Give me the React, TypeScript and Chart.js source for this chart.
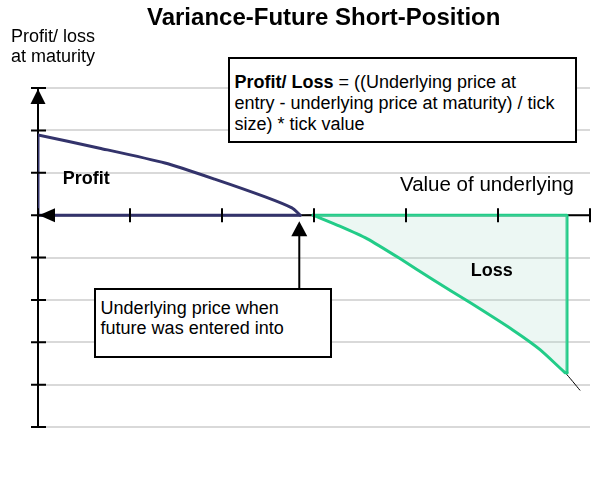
import React, { useEffect, useRef } from "react";
import { Chart, registerables } from "chart.js";

Chart.register(...registerables);

// ---- data ----
const xTicks = [0, 1, 2, 3, 4, 5, 6];
const yMin = -5;
const yMax = 3;
const profitX = [0, 0.67, 1.38, 1.92, 2.47, 2.76, 2.85];
const profitY = [1.89, 1.58, 1.23, 0.85, 0.43, 0.17, 0];
const lossX = [2.99, 3.28, 3.58, 3.93, 4.29, 4.7, 5.16, 5.46, 5.73];
const lossY = [0, -0.26, -0.56, -1.02, -1.52, -2.07, -2.71, -3.18, -3.72];
const lossEdgeX = 5.75;
const payoffEndX = [5.89];
const payoffEndY = [-4.13];
const entryPriceX = 2.84;
const entryBoxY = -1.75;

const FONT = '"Liberation Sans", Arial, sans-serif';
const NAVY = "#33336b";
const GREEN = "#22cc88";

const profitPts = profitX.map((x, i) => ({ x, y: profitY[i] }));
const lossPts = lossX.map((x, i) => ({ x, y: lossY[i] }));

const axesPlugin = {
  id: "axesPlugin",
  beforeDatasetsDraw(chart: any) {
    const { ctx, scales } = chart;
    const xs = scales.x, ys = scales.y;
    const x0 = xs.getPixelForValue(0);
    const y0 = ys.getPixelForValue(0);
    ctx.save();
    ctx.strokeStyle = "#000";
    ctx.lineWidth = 2;
    ctx.beginPath();
    ctx.moveTo(x0, y0);
    ctx.lineTo(xs.getPixelForValue(xTicks[xTicks.length - 1]), y0);
    ctx.moveTo(x0, ys.getPixelForValue(yMax));
    ctx.lineTo(x0, ys.getPixelForValue(yMin));
    ctx.stroke();
    ctx.restore();
  },
  afterDatasetsDraw(chart: any) {
    const { ctx, scales } = chart;
    const xs = scales.x, ys = scales.y;
    const x0 = xs.getPixelForValue(0);
    const y0 = ys.getPixelForValue(0);
    ctx.save();
    ctx.strokeStyle = "#000";
    ctx.fillStyle = "#000";
    ctx.lineWidth = 2;
    ctx.beginPath();
    xTicks.forEach((t) => {
      const px = xs.getPixelForValue(t);
      ctx.moveTo(px, y0 - 7);
      ctx.lineTo(px, y0 + 7);
    });
    for (let v = yMin; v <= yMax; v++) {
      const py = ys.getPixelForValue(v);
      ctx.moveTo(x0 - 7, py);
      ctx.lineTo(x0 + 8, py);
    }
    ctx.stroke();
    // y-axis arrow head (up)
    const yt = ys.getPixelForValue(yMax);
    ctx.beginPath();
    ctx.moveTo(x0, yt + 1);
    ctx.lineTo(x0 + 7.5, yt + 16);
    ctx.lineTo(x0 - 7.5, yt + 16);
    ctx.closePath();
    ctx.fill();
    // x-axis arrow head (left)
    ctx.beginPath();
    ctx.moveTo(x0 + 1, y0);
    ctx.lineTo(x0 + 17, y0 - 7);
    ctx.lineTo(x0 + 17, y0 + 7);
    ctx.closePath();
    ctx.fill();
    // entry price arrow
    const ex = xs.getPixelForValue(entryPriceX);
    const eb = ys.getPixelForValue(entryBoxY);
    ctx.beginPath();
    ctx.moveTo(ex, eb);
    ctx.lineTo(ex, y0 + 14);
    ctx.stroke();
    ctx.beginPath();
    ctx.moveTo(ex, y0 + 6);
    ctx.lineTo(ex + 8, y0 + 21);
    ctx.lineTo(ex - 8, y0 + 21);
    ctx.closePath();
    ctx.fill();
    ctx.restore();
  },
};

export default function App() {
  const ref = useRef<HTMLCanvasElement | null>(null);
  useEffect(() => {
    if (!ref.current) return;
    const lastLossY = lossY[lossY.length - 1];
    const profitEdges = [
      { x: profitX[0], y: profitY[0] },
      { x: profitX[0], y: 0 },
      { x: profitX[profitX.length - 1], y: 0 },
    ];
    const lossCurve = [...lossPts, { x: lossEdgeX, y: lastLossY }];
    const lossEdges = [
      { x: lossX[0], y: 0 },
      { x: lossEdgeX, y: 0 },
      { x: lossEdgeX, y: lastLossY },
    ];
    const payoff = [
      ...profitPts,
      ...lossPts,
      ...payoffEndX.map((x, i) => ({ x, y: payoffEndY[i] })),
    ];
    const base = {
      showLine: true,
      pointRadius: 0,
      fill: false,
      borderJoinStyle: "round",
      borderCapStyle: "round",
    };
    const chart = new Chart(ref.current, {
      type: "scatter",
      data: {
        datasets: [
          { ...base, label: "Profit curve", data: profitPts, borderColor: NAVY, borderWidth: 3, tension: 0.2 },
          { ...base, label: "Profit edges", data: profitEdges, borderColor: NAVY, borderWidth: 3, tension: 0 },
          {
            ...base,
            label: "Loss curve",
            data: lossCurve,
            borderColor: GREEN,
            borderWidth: 3,
            tension: 0.2,
            fill: "origin",
            backgroundColor: "rgba(170,220,200,0.22)",
          },
          { ...base, label: "Loss edges", data: lossEdges, borderColor: GREEN, borderWidth: 3, tension: 0 },
          { ...base, label: "Payoff", data: payoff, borderColor: "#000", borderWidth: 1, tension: 0.2 },
        ],
      },
      options: {
        animation: false,
        responsive: false,
        devicePixelRatio: 1,
        layout: { padding: { left: 38, right: 23, top: 88, bottom: 63 } },
        plugins: { legend: { display: false }, tooltip: { enabled: false }, title: { display: false } },
        scales: {
          x: {
            type: "linear",
            min: xTicks[0],
            max: xTicks[xTicks.length - 1],
            grid: { display: false, drawTicks: false },
            ticks: { display: false, stepSize: 1 },
            border: { display: false },
          },
          y: {
            type: "linear",
            min: yMin,
            max: yMax,
            grid: { color: "#d9d9d9", lineWidth: 2, drawTicks: false },
            ticks: { display: false, stepSize: 1 },
            border: { display: false },
          },
        },
      },
      plugins: [axesPlugin],
    } as any);
    return () => chart.destroy();
  }, []);

  const txt: React.CSSProperties = {
    position: "absolute",
    fontFamily: FONT,
    color: "#000",
    whiteSpace: "nowrap",
    margin: 0,
  };

  return (
    <div style={{ position: "absolute", left: 0, top: 0, width: 613, height: 490, background: "#fff" }}>
      <canvas ref={ref} width={613} height={490} style={{ display: "block", width: 613, height: 490 }} />
      <div style={{ ...txt, left: 147, top: 4.7, fontSize: 24, lineHeight: "24px", fontWeight: "bold" }}>
        Variance-Future Short-Position
      </div>
      <div style={{ ...txt, left: 11, top: 25.5, fontSize: 18, lineHeight: "20.5px" }}>
        Profit/ loss
        <br />
        at maturity
      </div>
      <div
        style={{
          ...txt,
          left: 228,
          top: 57,
          width: 349,
          height: 86,
          boxSizing: "border-box",
          border: "2px solid #000",
          background: "#fff",
          padding: "12.5px 0 0 4.5px",
          fontSize: 18,
          lineHeight: "21px",
        }}
      >
        <b>Profit/ Loss</b> = ((Underlying price at
        <br />
        entry - underlying price at maturity) / tick
        <br />
        size) * tick value
      </div>
      <div style={{ ...txt, left: 62.7, top: 167.5, fontSize: 18, lineHeight: "21px", fontWeight: "bold" }}>Profit</div>
      <div style={{ ...txt, left: 470.7, top: 260, fontSize: 18, lineHeight: "21px", fontWeight: "bold" }}>Loss</div>
      <div style={{ ...txt, left: 400, top: 173, fontSize: 20.5, lineHeight: "21px" }}>Value of underlying</div>
      <div
        style={{
          ...txt,
          left: 94,
          top: 288,
          width: 238,
          height: 70,
          boxSizing: "border-box",
          border: "2px solid #000",
          background: "#fff",
          padding: "7.75px 0 0 4.6px",
          fontSize: 18,
          lineHeight: "20.5px",
        }}
      >
        Underlying price when
        <br />
        future was entered into
      </div>
    </div>
  );
}
